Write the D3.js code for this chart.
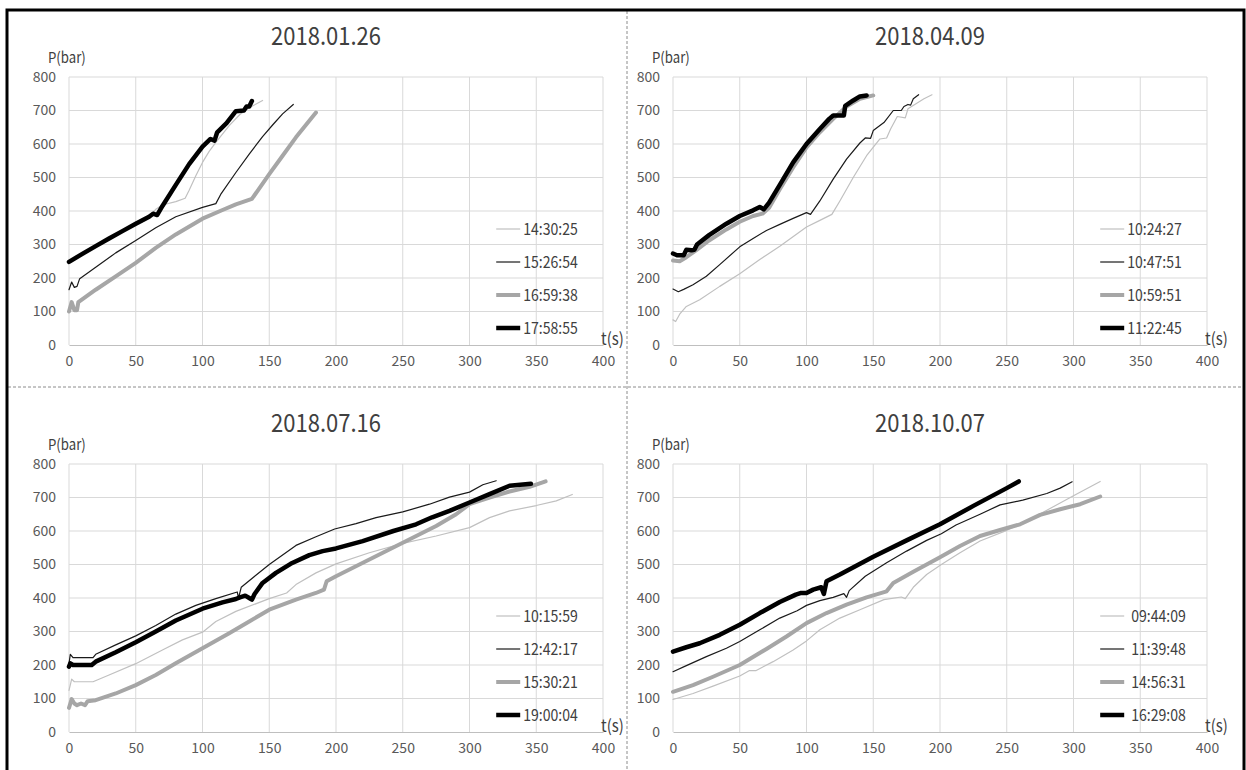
<!DOCTYPE html>
<html>
<head>
<meta charset="utf-8">
<script src="https://cdnjs.cloudflare.com/ajax/libs/d3/7.8.5/d3.min.js"></script>
<style>
  body { margin: 0; background: #fff; }
  svg { display: block; }
  text { font-family: "Noto Sans CJK KR", "Noto Sans", sans-serif; }
</style>
</head>
<body>
<svg width="1246" height="770"></svg>
<script>
// axis ticks
const xTicks = [0, 50, 100, 150, 200, 250, 300, 350, 400];
const yTicks = [0, 100, 200, 300, 400, 500, 600, 700, 800];
const titles = ["2018.01.26", "2018.04.09", "2018.07.16", "2018.10.07"];

// legend labels (time of each fill)
const jan26Times = ["14:30:25", "15:26:54", "16:59:38", "17:58:55"];
const apr09Times = ["10:24:27", "10:47:51", "10:59:51", "11:22:45"];
const jul16Times = ["10:15:59", "12:42:17", "15:30:21", "19:00:04"];
const oct07Times = ["09:44:09", "11:39:48", "14:56:31", "16:29:08"];

// [t(s), P(bar)]
const jan26_143025 = [[0,245],[5,255],[10,270],[20,293],[30,316],[40,338],[50,360],[60,385],[65,405],[70,418],[80,428],[87,438],[90,462],[95,505],[100,545],[105,578],[110,605],[120,655],[128,688],[135,708],[145,730]];
const jan26_152654 = [[0,165],[2,188],[4,172],[6,175],[8,198],[20,232],[35,275],[50,312],[65,350],[80,383],[100,411],[110,422],[114,452],[125,515],[135,570],[145,622],[153,659],[160,690],[168,718]];
const jan26_165938 = [[0,100],[2,128],[4,104],[6,104],[7,128],[20,165],[35,205],[50,245],[65,290],[80,330],[100,377],[115,403],[125,420],[137,436],[150,510],[160,565],[170,620],[185,694]];
const jan26_175855 = [[0,248],[10,272],[20,295],[30,318],[40,340],[50,362],[60,383],[63,392],[66,388],[70,415],[80,478],[90,540],[100,592],[106,615],[109,610],[111,635],[118,662],[125,698],[131,700],[133,712],[135,712],[137,728]];

const apr09_102427 = [[0,75],[2,70],[5,92],[10,115],[20,135],[35,175],[50,213],[65,255],[80,295],[100,352],[110,372],[119,390],[125,430],[135,500],[145,565],[155,615],[160,618],[163,645],[168,682],[174,678],[176,705],[182,720],[188,735],[194,747]];
const apr09_104751 = [[0,167],[4,159],[8,166],[15,180],[25,205],[35,240],[50,293],[60,318],[70,342],[80,360],[90,378],[100,395],[103,390],[110,430],[120,495],[130,555],[140,603],[144,618],[148,617],[150,640],[158,664],[165,700],[171,700],[173,712],[176,718],[178,716],[180,735],[184,747]];
const apr09_105951 = [[0,252],[5,250],[10,262],[18,285],[27,312],[40,345],[50,368],[60,385],[67,392],[72,410],[80,465],[90,530],[100,590],[110,635],[120,675],[130,712],[140,735],[150,745]];
const apr09_112245 = [[0,273],[3,268],[8,268],[10,284],[14,283],[16,284],[18,300],[27,328],[40,362],[50,385],[60,402],[65,412],[68,405],[72,425],[80,478],[90,545],[100,600],[110,645],[117,675],[120,685],[128,685],[129,714],[135,730],[140,742],[145,745]];

const jul16_101559 = [[0,124],[2,158],[4,150],[18,150],[30,170],[50,204],[70,245],[85,275],[100,298],[110,330],[125,360],[150,398],[163,415],[170,440],[185,475],[200,502],[225,535],[250,563],[275,585],[300,610],[315,640],[330,660],[350,676],[365,690],[377,709]];
const jul16_124217 = [[0,205],[1,232],[3,222],[18,222],[20,232],[35,260],[50,287],[65,318],[80,352],[95,378],[110,398],[126,418],[127,400],[129,432],[140,468],[150,500],[170,557],[185,583],[199,606],[215,622],[230,640],[250,657],[270,680],[285,701],[300,716],[310,738],[320,750]];
const jul16_153021 = [[0,72],[2,98],[4,85],[6,80],[9,85],[12,80],[14,92],[20,95],[35,115],[50,140],[65,170],[80,205],[100,250],[120,295],[135,330],[150,365],[170,395],[185,415],[191,425],[193,450],[200,465],[225,515],[250,565],[275,615],[290,650],[300,680],[315,700],[330,718],[345,732],[357,748]];
const jul16_190004 = [[0,195],[1,205],[3,200],[17,200],[20,210],[35,238],[50,268],[65,300],[80,333],[100,368],[115,387],[125,397],[128,402],[132,407],[135,400],[137,395],[139,412],[145,445],[155,475],[166,502],[180,528],[190,540],[200,548],[220,570],[243,600],[260,620],[272,641],[285,660],[300,685],[315,710],[330,735],[346,741]];

const oct07_094409 = [[0,97],[15,115],[30,137],[50,167],[57,183],[62,183],[75,210],[90,245],[100,272],[110,305],[125,340],[140,365],[158,395],[171,403],[174,398],[180,432],[190,470],[201,500],[215,535],[230,570],[250,602],[265,630],[280,662],[300,705],[320,748]];
const oct07_113948 = [[0,180],[10,198],[25,225],[40,250],[50,270],[65,305],[80,340],[93,362],[100,378],[110,392],[120,402],[128,413],[130,402],[132,422],[144,465],[160,505],[175,540],[190,572],[201,592],[212,618],[230,650],[245,678],[262,692],[280,712],[290,728],[299,747]];
const oct07_145631 = [[0,120],[15,140],[30,165],[50,200],[70,248],[85,285],[100,325],[115,355],[130,380],[145,402],[160,420],[165,445],[180,478],[200,522],[215,555],[230,585],[245,603],[260,620],[275,648],[290,665],[305,680],[320,703]];
const oct07_162908 = [[0,240],[10,253],[20,265],[35,290],[50,320],[65,355],[80,388],[92,410],[96,415],[100,415],[105,425],[111,432],[113,412],[115,450],[125,470],[150,523],[175,572],[200,620],[225,675],[250,728],[259,748]];

const panels = [
  { title: titles[0], times: jan26Times, series: [jan26_143025, jan26_152654, jan26_165938, jan26_175855], col: 0, row: 0 },
  { title: titles[1], times: apr09Times, series: [apr09_102427, apr09_104751, apr09_105951, apr09_112245], col: 1, row: 0 },
  { title: titles[2], times: jul16Times, series: [jul16_101559, jul16_124217, jul16_153021, jul16_190004], col: 0, row: 1 },
  { title: titles[3], times: oct07Times, series: [oct07_094409, oct07_113948, oct07_145631, oct07_162908], col: 1, row: 1, legendGap: 7 }
];

// thin light grey, thin black, thick grey, thick black
const styles = [
  { color: "#c0c0c0", width: 1.2 },
  { color: "#1a1a1a", width: 1.2 },
  { color: "#a6a6a6", width: 4 },
  { color: "#000000", width: 4.5 }
];

const svg = d3.select("svg");
const colX = [69, 673], rowY = [77, 464];
const W = 534, H = 268;

// the source font is a squeezed one, so text is narrowed a little
function label(sel, x, y, str, size, anchor, sx) {
  return sel.append("text")
    .attr("transform", `translate(${x},${y}) scale(${sx || 0.88},1)`)
    .attr("text-anchor", anchor || "start")
    .attr("fill", "#404040").style("font-size", size + "px").text(str);
}

// frame and dashed dividers
svg.append("line").attr("x1", 627).attr("x2", 627).attr("y1", 11).attr("y2", 770)
  .attr("stroke", "#8c8c8c").attr("stroke-dasharray", "3,2");
svg.append("line").attr("x1", 8).attr("x2", 1243).attr("y1", 387).attr("y2", 387)
  .attr("stroke", "#8c8c8c").attr("stroke-dasharray", "3,2");
svg.append("path").attr("d", "M7,770 V10 H1244 V770").attr("fill", "none")
  .attr("stroke", "#000").attr("stroke-width", 3);

panels.forEach(p => {
  const x0 = colX[p.col], y0 = rowY[p.row];
  const g = svg.append("g").attr("transform", `translate(${x0},${y0})`);
  const x = d3.scaleLinear().domain([0, 400]).range([0, W]);
  const y = d3.scaleLinear().domain([0, 800]).range([H, 0]);

  // gridlines
  g.append("g").selectAll("line").data(yTicks.slice(1)).join("line")
    .attr("x1", 0).attr("x2", W).attr("y1", d => y(d)).attr("y2", d => y(d))
    .attr("stroke", "#d9d9d9");
  g.append("g").selectAll("line").data(xTicks).join("line")
    .attr("x1", d => x(d)).attr("x2", d => x(d)).attr("y1", 0).attr("y2", H)
    .attr("stroke", "#d9d9d9");

  // axes
  const xAxis = g.append("g").attr("transform", `translate(0,${H})`)
    .call(d3.axisBottom(x).tickValues(xTicks).tickSize(0).tickPadding(11));
  const yAxis = g.append("g")
    .call(d3.axisLeft(y).tickValues(yTicks).tickSize(0).tickPadding(13));
  xAxis.select(".domain").attr("stroke", "#bfbfbf");
  yAxis.select(".domain").remove();
  [xAxis, yAxis].forEach(a => a.selectAll("text")
    .attr("fill", "#595959").style("font-family", "'Noto Sans CJK KR', sans-serif")
    .style("font-size", "14px"));

  // curves
  const line = d3.line().x(d => x(d[0])).y(d => y(d[1]));
  p.series.forEach((s, i) => {
    g.append("path").datum(s).attr("d", line)
      .attr("fill", "none").attr("stroke", styles[i].color)
      .attr("stroke-width", styles[i].width)
      .attr("stroke-linejoin", "round").attr("stroke-linecap", "round");
  });

  // titles and axis names
  label(g, W / 2 - 10, -32, p.title, 25, "middle");
  label(g, -21, -14, "P(bar)", 15);
  label(g, W - 2, H, "t(s)", 17);

  // legend
  const gap = p.legendGap || 3;
  const lg = g.append("g").attr("transform", `translate(${W * 0.8},${152})`);
  p.times.forEach((t, i) => {
    const row = lg.append("g").attr("transform", `translate(0,${i * 33})`);
    row.append("line").attr("x1", 0).attr("x2", 24)
      .attr("stroke", styles[i].color).attr("stroke-width", styles[i].width);
    label(row, 24 + gap, 5.5, t, 16);
  });
});
</script>
</body>
</html>
